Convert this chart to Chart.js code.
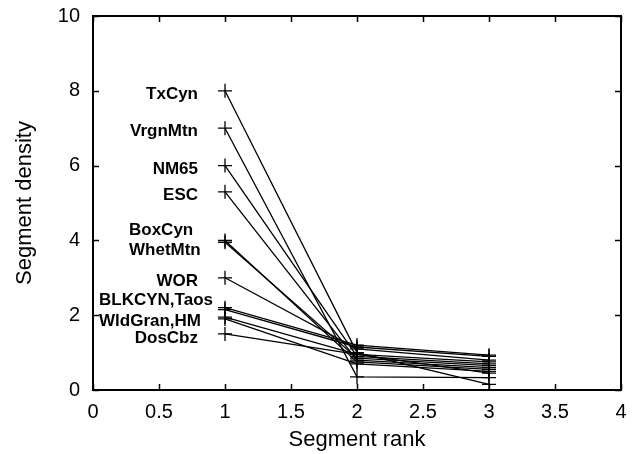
<!DOCTYPE html>
<html>
<head>
<meta charset="utf-8">
<script src="https://cdn.jsdelivr.net/npm/chart.js@4/dist/chart.umd.min.js"></script>
<style>
	html, body { margin: 0; padding: 0; background: #fff; }
	#wrap { width: 639px; height: 454px; }
</style>
</head>
<body>
<div id="wrap"><canvas id="chart" width="639" height="454"></canvas></div>
<script>
// Segment names, one series each.
const segmentNames = ['TxCyn', 'VrgnMtn', 'NM65', 'ESC', 'BoxCyn', 'WhetMtn', 'WOR', 'BLKCYN', 'Taos', 'WldGran', 'HM', 'DosCbz'];
const ranks = [1, 2, 3];
// Density at rank 1, 2 and 3 for each segment (same order as segmentNames).
const densityRank1 = [8.0, 7.0, 6.0, 5.3, 4.0, 3.95, 3.0, 2.2, 2.15, 1.95, 1.9, 1.5];
const densityRank2 = [1.0, 0.35, 0.9, 0.8, 0.75, 0.85, 1.1, 1.2, 1.15, 0.95, 0.7, 0.95];
const densityRank3 = [0.15, 0.33, 0.7, 0.6, 0.55, 0.65, 0.8, 0.93, 0.9, 0.75, 0.5, 0.45];

const xTicks = [0, 0.5, 1, 1.5, 2, 2.5, 3, 3.5, 4];
const yTicks = [0, 2, 4, 6, 8, 10];

// Text labels next to the rank-1 points.
const labelTexts = ['TxCyn', 'VrgnMtn', 'NM65', 'ESC', 'BoxCyn', 'WhetMtn', 'WOR', 'BLKCYN,Taos', 'WldGran,HM', 'DosCbz'];
const labelAnchors = [7.91, 6.93, 5.91, 5.21, 4.28, 3.74, 2.91, 2.41, 1.84, 1.39];

const FONT = '"Liberation Sans", Arial, Helvetica, sans-serif';

const datasets = segmentNames.map( ( name, i ) => ( {
	label: name,
	data: ranks.map( ( r, k ) => ( { x: r, y: [densityRank1, densityRank2, densityRank3][k][i] } ) ),
	showLine: true,
	borderColor: '#000',
	borderWidth: 1.3,
	pointStyle: 'cross',
	pointRadius: 7,
	pointBorderColor: '#000',
	pointBorderWidth: 1.3,
	fill: false
} ) );

// Frame with inward ticks on all four sides, gnuplot style.
const framePlugin = {
	id: 'frame',
	afterDraw( chart ) {
		const { ctx, chartArea: a, scales } = chart;
		ctx.save();
		ctx.strokeStyle = '#000';
		ctx.lineWidth = 1.5;
		ctx.beginPath();
		xTicks.forEach( t => {
			const px = Math.round( scales.x.getPixelForValue( t ) ) + 0.5;
			ctx.moveTo( px, a.bottom ); ctx.lineTo( px, a.bottom - 6 );
			ctx.moveTo( px, a.top ); ctx.lineTo( px, a.top + 6 );
		} );
		yTicks.forEach( t => {
			const py = Math.round( scales.y.getPixelForValue( t ) ) + 0.5;
			ctx.moveTo( a.left, py ); ctx.lineTo( a.left + 6, py );
			ctx.moveTo( a.right, py ); ctx.lineTo( a.right - 6, py );
		} );
		ctx.stroke();
		ctx.lineWidth = 2;
		ctx.strokeRect( a.left, a.top, a.right - a.left, a.bottom - a.top );
		ctx.restore();
	}
};

// Segment name labels.
const labelPlugin = {
	id: 'segLabels',
	afterDatasetsDraw( chart ) {
		const { ctx, scales } = chart;
		ctx.save();
		ctx.fillStyle = '#000';
		ctx.font = 'bold 17px ' + FONT;
		ctx.textBaseline = 'middle';
		labelTexts.forEach( ( txt, i ) => {
			const py = scales.y.getPixelForValue( labelAnchors[i] );
			if ( txt === 'BoxCyn' || txt === 'WhetMtn' ) {
				ctx.textAlign = 'left';
				ctx.fillText( txt, 129, py );
			} else if ( txt.indexOf( ',' ) > -1 ) {
				ctx.textAlign = 'left';
				ctx.fillText( txt, 99, py );
			} else {
				ctx.textAlign = 'right';
				ctx.fillText( txt, 198, py );
			}
		} );
		ctx.restore();
	}
};

new Chart( document.getElementById( 'chart' ), {
	type: 'scatter',
	data: { datasets: datasets },
	options: {
		responsive: false,
		animation: false,
		layout: { padding: { top: 16, right: 18, left: 0, bottom: 0 } },
		plugins: {
			legend: { display: false },
			tooltip: { enabled: false }
		},
		scales: {
			x: {
				type: 'linear',
				min: 0,
				max: 4,
				afterBuildTicks: ( scale ) => { scale.ticks = xTicks.map( v => ( { value: v } ) ); },
				afterFit: ( scale ) => {
					scale.height = 64;
					scale.paddingLeft = 0;
					scale.paddingRight = 0;
				},
				grid: { display: false, drawTicks: false },
				border: { display: false },
				ticks: {
					padding: 10,
					color: '#000',
					maxRotation: 0,
					callback: ( v ) => String( v ),
					font: { family: FONT, size: 20 }
				},
				title: {
					display: true,
					text: 'Segment rank',
					color: '#000',
					font: { family: FONT, size: 22 },
					padding: { top: 0, bottom: 1 }
				}
			},
			y: {
				type: 'linear',
				min: 0,
				max: 10,
				afterBuildTicks: ( scale ) => { scale.ticks = yTicks.map( v => ( { value: v } ) ); },
				afterFit: ( scale ) => {
					scale.width = 93;
					scale.paddingTop = 0;
					scale.paddingBottom = 0;
				},
				grid: { display: false, drawTicks: false },
				border: { display: false },
				ticks: {
					padding: 13,
					color: '#000',
					callback: ( v ) => String( v ),
					font: { family: FONT, size: 20 }
				},
				title: {
					display: true,
					text: 'Segment density',
					color: '#000',
					font: { family: FONT, size: 22 },
					padding: { top: 12, bottom: 0 }
				}
			}
		}
	},
	plugins: [framePlugin, labelPlugin]
} );
</script>
</body>
</html>
